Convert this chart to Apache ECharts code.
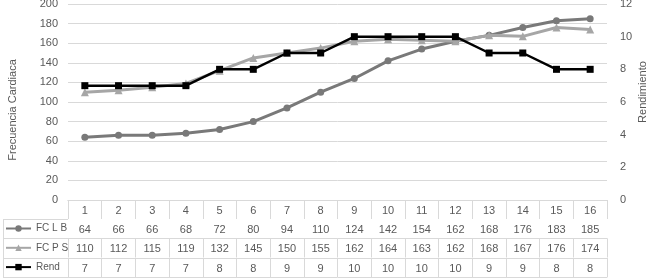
<!DOCTYPE html>
<html><head><meta charset="utf-8">
<script src="https://cdn.jsdelivr.net/npm/echarts@6/dist/echarts.min.js"></script>
<style>html,body{margin:0;padding:0;background:#fff}#c{width:650px;height:279px}</style>
</head><body><div id="c"></div>
<script>
const categories = ['1','2','3','4','5','6','7','8','9','10','11','12','13','14','15','16'];
const fcLB = [64,66,66,68,72,80,94,110,124,142,154,162,168,176,183,185];
const fcPS = [110,112,115,119,132,145,150,155,162,164,163,162,168,167,176,174];
const rend = [7,7,7,7,8,8,9,9,10,10,10,10,9,9,8,8];
const seriesNames = ['FC L B','FC P S','Rend'];
const leftAxis = {min:0, max:200, interval:20, name:'Frecuencia Cardiaca'};
const rightAxis = {min:0, max:12, interval:2, name:'Rendimiento'};

const FONT = 'Liberation Sans';
const TXT = '#595959';
const GRIDC = '#d9d9d9';

function rowAxis(offset, values, showLabels){
  return {
    type:'category', data:categories, gridIndex:0, position:'bottom', offset:offset,
    boundaryGap:true,
    axisLine:{show:true, lineStyle:{color:GRIDC, width:1}},
    axisTick:{show:true, interval:0, length:19, lineStyle:{color:GRIDC, width:1}},
    axisLabel:{show:showLabels, interval:0, margin:5, color:TXT, fontSize:11, fontFamily:FONT,
      formatter:(v,i)=> values ? String(values[i]) : v},
    splitLine:{show:false}
  };
}

const chart = echarts.init(document.getElementById('c'), null, {renderer:'canvas'});
const option = {
  animation:false,
  backgroundColor:'#fff',
  grid:{left:68, right:43, top:4, bottom:79, containLabel:false, outerBoundsMode:'none'},
  legend:{
    orient:'vertical', left:5, top:222, padding:0, itemGap:6.3, itemWidth:25, itemHeight:8,
    data:seriesNames,
    textStyle:{color:TXT, fontSize:10, fontFamily:FONT, lineHeight:13}
  },
  xAxis:[
    rowAxis(0, null, true),
    rowAxis(19, fcLB, true),
    rowAxis(38.5, fcPS, true),
    rowAxis(58, rend, true),
    Object.assign(rowAxis(77, null, false), {axisTick:{show:false}})
  ],
  yAxis:[
    {type:'value', min:leftAxis.min, max:leftAxis.max, interval:leftAxis.interval,
     axisLine:{show:false}, axisTick:{show:false},
     axisLabel:{color:TXT, fontSize:11, fontFamily:FONT, margin:10},
     splitLine:{lineStyle:{color:GRIDC, width:1}}},
    {type:'value', position:'right', min:rightAxis.min, max:rightAxis.max, interval:rightAxis.interval,
     axisLine:{show:false}, axisTick:{show:false},
     axisLabel:{color:TXT, fontSize:11, fontFamily:FONT, margin:13},
     splitLine:{show:false}}
  ],
  series:[
    {name:seriesNames[0], type:'line', data:fcLB, xAxisIndex:0, yAxisIndex:0,
     symbol:'circle', symbolSize:7, color:'#797979', lineStyle:{width:3, color:'#797979'},
     itemStyle:{color:'#797979'}, z:2},
    {name:seriesNames[1], type:'line', data:fcPS, xAxisIndex:0, yAxisIndex:0,
     symbol:'triangle', symbolSize:8, color:'#a6a6a6', lineStyle:{width:3, color:'#a6a6a6'},
     itemStyle:{color:'#a6a6a6'}, z:3},
    {name:seriesNames[2], type:'line', data:rend, xAxisIndex:0, yAxisIndex:1,
     symbol:'rect', symbolSize:7, color:'#000', lineStyle:{width:2.5, color:'#000'},
     itemStyle:{color:'#000'}, z:4}
  ],
  graphic:[
    {type:'text', x:13, y:110, rotation:Math.PI/2, silent:true,
     style:{text:leftAxis.name, fill:TXT, fontSize:11, fontFamily:FONT, align:'center', verticalAlign:'middle'}},
    {type:'text', x:643, y:92, rotation:Math.PI/2, silent:true,
     style:{text:rightAxis.name, fill:TXT, fontSize:11, fontFamily:FONT, align:'center', verticalAlign:'middle'}},
    {type:'line', shape:{x1:3, y1:219.5, x2:68, y2:219.5}, style:{stroke:GRIDC, lineWidth:1}, silent:true},
    {type:'line', shape:{x1:3, y1:238.5, x2:68, y2:238.5}, style:{stroke:GRIDC, lineWidth:1}, silent:true},
    {type:'line', shape:{x1:3, y1:258.5, x2:68, y2:258.5}, style:{stroke:GRIDC, lineWidth:1}, silent:true},
    {type:'line', shape:{x1:3, y1:277.5, x2:68, y2:277.5}, style:{stroke:GRIDC, lineWidth:1}, silent:true},
    {type:'line', shape:{x1:3.5, y1:219, x2:3.5, y2:278}, style:{stroke:GRIDC, lineWidth:1}, silent:true}
  ]
};
chart.setOption(option);
</script></body></html>
